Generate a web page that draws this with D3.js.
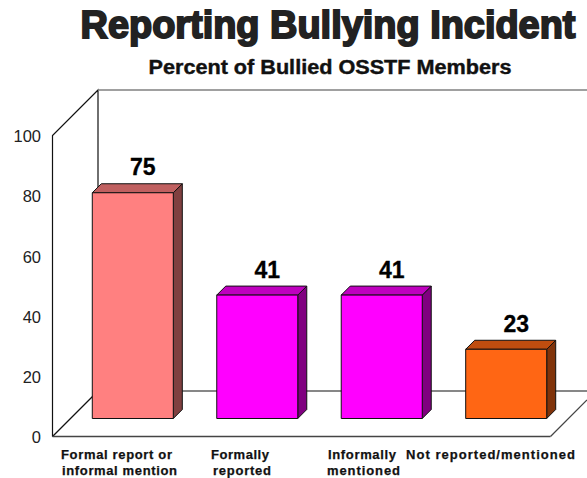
<!DOCTYPE html>
<html><head><meta charset="utf-8">
<script src="https://cdn.jsdelivr.net/npm/d3@7"></script>
<style>html,body{margin:0;padding:0;background:#fff;overflow:hidden}svg{display:block}</style>
</head><body><svg id="c" width="587" height="478"></svg>
<script>
const categories=["Formal report or|informal mention","Formally|reported","Informally|mentioned","Not reported/mentioned"];
const values=[75,41,41,23];
const frontColors=["#ff8080","#ff00ff","#ff00ff","#ff6614"];
const topColors=["#c06060","#bf00bf","#bf00bf","#bf4d0f"];
const sideColors=["#804040","#800080","#800080","#80330a"];
const yTicks=[0,20,40,60,80,100];
const titleText="Reporting Bullying Incident";
const subtitleText="Percent of Bullied OSSTF Members";

const svg=d3.select("#c");
const depth=45.5, barDepth=9;
const x=d3.scaleBand().domain(categories).range([52.5,550.5]).paddingInner(0.349).paddingOuter(0.175);
const y=d3.scaleLinear().domain([0,100]).range([436.5,135.5]);
const floorOff=18;
const line=(p,st,w)=>svg.append("path").attr("d",d3.line()(p)).attr("fill","none").attr("stroke",st).attr("stroke-width",w);

// title
svg.append("text").attr("x",80.5).attr("y",38).text(titleText)
 .attr("font-family","'Liberation Sans'").attr("font-weight",700).attr("font-size",38)
 .attr("fill","#222").attr("stroke","#222").attr("stroke-width",1.9)
 .attr("textLength",495).attr("lengthAdjust","spacingAndGlyphs");
svg.append("text").attr("x",148.5).attr("y",73.5).text(subtitleText)
 .attr("font-family","'Liberation Sans'").attr("font-weight",700).attr("font-size",20)
 .attr("fill","#111").attr("stroke","#111").attr("stroke-width",.4)
 .attr("textLength",363).attr("lengthAdjust","spacingAndGlyphs");

// walls
const x0=x.range()[0], x1=x.range()[1], y0=y(0), yT=y(100);
line([[x0,y0],[x0,yT],[x0+depth,yT-depth],[x0+depth,y0-depth]],"#111",1.2);
line([[x0+depth,yT-depth],[587,yT-depth]],"#808080",1.5);
line([[x0+depth,y0-depth],[587,y0-depth]],"#111",1.2);
line([[x0,y0],[x0+depth,y0-depth]],"#111",1.2);
line([[x1,y0],[587,y0-(587-x1)]],"#444",1.2);
line([[x0,y0],[x1,y0]],"#444",1.6);

// ticks
svg.selectAll("text.tick").data(yTicks).join("text").attr("class","tick")
 .attr("x",41).attr("y",d=>y(d)).attr("dy",".40em").attr("text-anchor","end").text(d=>d)
 .attr("font-family","'Liberation Sans'").attr("font-size",16.5).attr("fill","#222");

// bars
const bw=x.bandwidth();
const bars=svg.selectAll("g.bar").data(categories).join("g").attr("class","bar");
bars.each(function(c,i){
 const g=d3.select(this);
 const l=x(c)+floorOff, r=l+bw, b=y(0)-floorOff, t=y(values[i])-floorOff;
 const poly=(pts,fill)=>g.append("polygon").attr("points",pts.join(" ")).attr("fill",fill).attr("stroke","#111").attr("stroke-width",1).attr("stroke-linejoin","round");
 poly([[r,b],[r+barDepth,b-barDepth],[r+barDepth,t-barDepth],[r,t]],sideColors[i]);
 poly([[l,t],[l+barDepth,t-barDepth],[r+barDepth,t-barDepth],[r,t]],topColors[i]);
 poly([[l,t],[r,t],[r,b],[l,b]],frontColors[i]);
 g.append("text").attr("x",(l+r)/2+10).attr("y",t-17.5).attr("text-anchor","middle").text(values[i])
  .attr("font-family","'Liberation Sans'").attr("font-weight",700).attr("font-size",23)
  .attr("fill","#000").attr("stroke","#000").attr("stroke-width",.3);
});

// category labels
const labelX=[[61,62],[211,213],[328,327],[406]];
const labelW=[[111,115],[58,58],[68,73],[169]];
svg.selectAll("text.cat").data(categories).join("g").attr("class","cat")
 .each(function(c,i){
  const sel=d3.select(this);
  c.split("|").forEach((s,k)=>sel.append("text").attr("x",labelX[i][k]).attr("y",459+k*16).text(s)
   .attr("font-family","'Liberation Sans'").attr("font-weight",700).attr("font-size",13).attr("fill","#111")
   .attr("stroke","#111").attr("stroke-width",.25)
   .attr("textLength",labelW[i][k]).attr("lengthAdjust","spacing"));
 });
</script></body></html>
